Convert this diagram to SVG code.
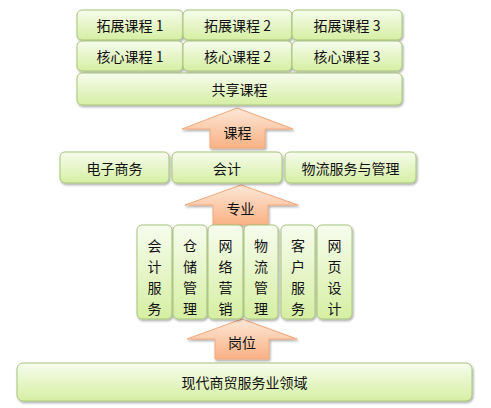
<svg xmlns="http://www.w3.org/2000/svg" width="491" height="408" viewBox="0 0 491 408">
<defs>
<linearGradient id="g" x1="0" y1="0" x2="0" y2="1">
<stop offset="0" stop-color="#f7fcee"/>
<stop offset="1" stop-color="#d5efa3"/>
</linearGradient>
<linearGradient id="o" x1="0" y1="0" x2="0" y2="1">
<stop offset="0" stop-color="#fde8d8"/>
<stop offset="1" stop-color="#f9b184"/>
</linearGradient>
<filter id="sh" x="-20%" y="-20%" width="140%" height="140%">
<feDropShadow dx="1" dy="1.5" stdDeviation="1" flood-color="#000" flood-opacity="0.35"/>
</filter>
</defs>
<style>
.b{fill:url(#g);stroke:#a7c47a;stroke-width:1;filter:url(#sh)}
.a{fill:url(#o);stroke:#f3a878;stroke-width:1;filter:url(#sh)}
text{font-family:"Noto Sans CJK SC","Liberation Sans",sans-serif;font-size:14px;fill:#111;text-anchor:middle;dominant-baseline:central}
</style>
<rect width="491" height="408" fill="#fff"/>
<g id="connectors">
<path class="a" d="M237,108 L293,129 L265,129 L265,148 L210,148 L210,129 L182,129 Z"/>
<text x="237.5" y="132">课程</text>
<path class="a" d="M241,185 L298,205 L268,205 L268,225 L213,225 L213,205 L185,205 Z"/>
<text x="240.5" y="208">专业</text>
<path class="a" d="M242,319 L297,339 L269,339 L269,359 L215,359 L215,339 L187,339 Z"/>
<text x="242" y="342">岗位</text>
</g>
<g id="n-tz1"><rect class="b" x="77" y="10" width="106" height="30" rx="5"/><text x="130" y="25">拓展课程 1</text></g>
<g id="n-tz2"><rect class="b" x="183" y="10" width="109" height="30" rx="5"/><text x="237.5" y="25">拓展课程 2</text></g>
<g id="n-tz3"><rect class="b" x="292" y="10" width="110" height="30" rx="5"/><text x="347" y="25">拓展课程 3</text></g>
<g id="n-hx1"><rect class="b" x="77" y="41" width="106" height="30" rx="5"/><text x="130" y="56">核心课程 1</text></g>
<g id="n-hx2"><rect class="b" x="183" y="41" width="109" height="30" rx="5"/><text x="237.5" y="56">核心课程 2</text></g>
<g id="n-hx3"><rect class="b" x="292" y="41" width="110" height="30" rx="5"/><text x="347" y="56">核心课程 3</text></g>
<g id="n-gx"><rect class="b" x="77" y="73" width="325" height="32" rx="5"/><text x="239.5" y="89">共享课程</text></g>
<g id="n-dz"><rect class="b" x="60" y="152" width="109" height="31" rx="5"/><text x="114.5" y="167.5">电子商务</text></g>
<g id="n-kj"><rect class="b" x="172" y="152" width="110" height="31" rx="5"/><text x="227" y="167.5">会计</text></g>
<g id="n-wl"><rect class="b" x="285" y="152" width="131" height="31" rx="5"/><text x="350.5" y="167.5">物流服务与管理</text></g>
<g id="n-v1"><rect class="b" x="137" y="225" width="35" height="94" rx="5"/><text x="154.5" y="245">会</text><text x="154.5" y="266">计</text><text x="154.5" y="287">服</text><text x="154.5" y="308">务</text></g>
<g id="n-v2"><rect class="b" x="173" y="225" width="34" height="94" rx="5"/><text x="190" y="245">仓</text><text x="190" y="266">储</text><text x="190" y="287">管</text><text x="190" y="308">理</text></g>
<g id="n-v3"><rect class="b" x="208" y="225" width="35" height="94" rx="5"/><text x="225.5" y="245">网</text><text x="225.5" y="266">络</text><text x="225.5" y="287">营</text><text x="225.5" y="308">销</text></g>
<g id="n-v4"><rect class="b" x="244" y="225" width="34" height="94" rx="5"/><text x="261" y="245">物</text><text x="261" y="266">流</text><text x="261" y="287">管</text><text x="261" y="308">理</text></g>
<g id="n-v5"><rect class="b" x="281" y="225" width="34" height="94" rx="5"/><text x="298" y="245">客</text><text x="298" y="266">户</text><text x="298" y="287">服</text><text x="298" y="308">务</text></g>
<g id="n-v6"><rect class="b" x="317" y="225" width="35" height="94" rx="5"/><text x="334.5" y="245">网</text><text x="334.5" y="266">页</text><text x="334.5" y="287">设</text><text x="334.5" y="308">计</text></g>
<g id="n-base"><rect class="b" x="17" y="363" width="455" height="38" rx="6"/><text x="244.5" y="382">现代商贸服务业领域</text></g>
</svg>
